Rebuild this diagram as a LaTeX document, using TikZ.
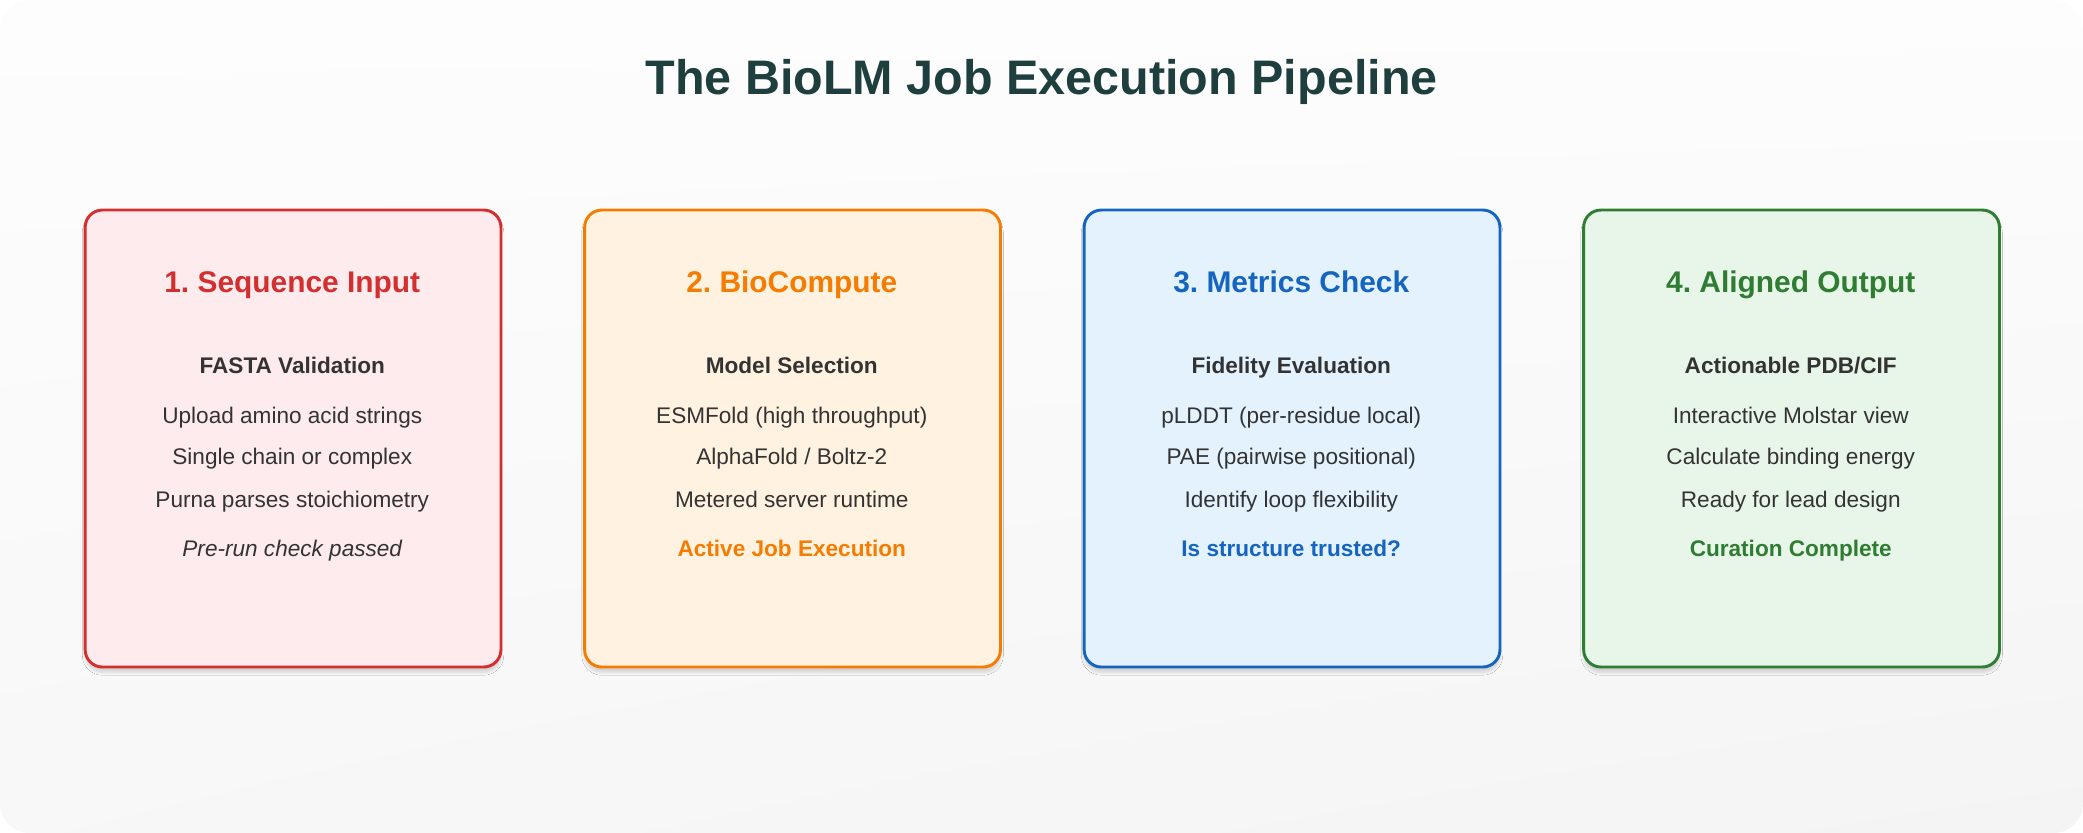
\documentclass[tikz,border=0pt]{standalone}
\usepackage{fontspec}
\setmainfont{Liberation Sans}
\frenchspacing
\usetikzlibrary{shadows.blur,shadings}
\definecolor{ttl}{HTML}{1F3F3F}
\definecolor{body}{HTML}{333333}
\definecolor{rB}{HTML}{D32F2F}\definecolor{rF}{HTML}{FDEBEE}
\definecolor{oB}{HTML}{F57C00}\definecolor{oF}{HTML}{FFF2E0}
\definecolor{bB}{HTML}{1565C0}\definecolor{bF}{HTML}{E3F2FD}
\definecolor{gB}{HTML}{2E7D32}\definecolor{gF}{HTML}{E8F5E9}
\definecolor{bgA}{HTML}{FDFDFD}\definecolor{bgB}{HTML}{F4F4F4}
\tikzset{
 card/.style={draw=#1, line width=2.2pt, rounded corners=13pt, minimum width=313pt, minimum height=344pt, anchor=north west, blur shadow={shadow blur steps=8, shadow xshift=0pt, shadow yshift=-4pt, shadow opacity=15}},
 txt/.style={anchor=base, inner sep=0pt},
 head/.style={txt, font=\fontsize{22.5}{26}\selectfont\bfseries, text=#1},
 sub/.style={txt, font=\fontsize{17}{20}\selectfont\bfseries, text=body},
 line/.style={txt, font=\fontsize{17}{20}\selectfont, text=body},
 foot/.style={txt, font=\fontsize{17}{20}\selectfont\bfseries, text=#1},
}
\begin{document}
\begin{tikzpicture}[x=1pt,y=-1pt]
\useasboundingbox (0,0) rectangle (1568,627);
\shade[upper left=bgA, upper right=bgA, lower left=bgB!60!bgA, lower right=bgB, rounded corners=22pt] (0,0) rectangle (1568,627);
\node[txt, font=\fontsize{36.5}{42}\selectfont\bfseries, text=ttl] (title) at (784,71) {The BioLM Job Execution Pipeline};
\foreach \n/\x/\bc/\fc/\h/\s/\a/\b/\c in {
 1/63/rB/rF/{1. Sequence Input}/{FASTA Validation}/{Upload amino acid strings}/{Single chain or complex}/{Purna parses stoichiometry},
 2/439/oB/oF/{2. BioCompute}/{Model Selection}/{ESMFold (high throughput)}/{AlphaFold / Boltz-2}/{Metered server runtime},
 3/815/bB/bF/{3. Metrics Check}/{Fidelity Evaluation}/{pLDDT (per-residue local)}/{PAE (pairwise positional)}/{Identify loop flexibility},
 4/1191/gB/gF/{4. Aligned Output}/{Actionable PDB/CIF}/{Interactive Molstar view}/{Calculate binding energy}/{Ready for lead design}}{
 \node[card=\bc, fill=\fc] (box\n) at (\x,157) {};
 \node[head=\bc] (h\n) at (\x+157,220) {\h};
 \node[sub] (s\n) at (\x+157,281) {\s};
 \node[line] (a\n) at (\x+157,319) {\a};
 \node[line] (b\n) at (\x+157,350) {\b};
 \node[line] (c\n) at (\x+157,382) {\c};
}
\node[line, font=\fontsize{17}{20}\selectfont\itshape] (f1) at (220,419) {Pre-run check passed};
\node[foot=oB] (f2) at (596,419) {Active Job Execution};
\node[foot=bB] (f3) at (972,419) {Is structure trusted?};
\node[foot=gB] (f4) at (1348,419) {Curation Complete};
\end{tikzpicture}
\end{document}
